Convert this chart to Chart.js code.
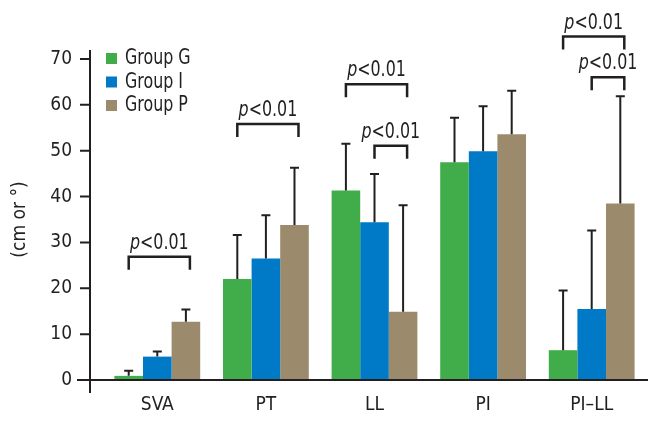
<!DOCTYPE html>
<html>
<head>
<meta charset="utf-8">
<script src="https://cdn.jsdelivr.net/npm/chart.js@4/dist/chart.umd.min.js"></script>
<style>
html,body{margin:0;padding:0;background:#fff;}
#wrap{width:659px;height:424px;position:relative;}
</style>
</head>
<body>
<div id="wrap"><canvas id="c" width="659" height="424"></canvas></div>
<script>
// ---- data ----
const categories = ['SVA', 'PT', 'LL', 'PI', 'PI\u2013LL'];
const seriesNames = ['Group G', 'Group I', 'Group P'];
const groupG = [0.9, 22.0, 41.3, 47.5, 6.5];
const groupI = [5.1, 26.5, 34.4, 49.9, 15.5];
const groupP = [12.7, 33.8, 14.9, 53.6, 38.5];
const sdG = [1.1, 9.6, 10.2, 9.7, 13.0];
const sdI = [1.1, 9.4, 10.5, 9.8, 17.1];
const sdP = [2.7, 12.5, 23.2, 9.5, 23.4];
const yTicks = [0, 10, 20, 30, 40, 50, 60, 70];
// significance brackets
const bracketCat = [0, 1, 2, 2, 4, 4];
const bracketFrom = [0, 0, 0, 1, 0, 1];
const bracketTo = [2, 2, 2, 2, 2, 2];
const bracketY = [26.9, 55.8, 64.5, 51.1, 74.9, 66.0];
const bracketText = ['<0.01', '<0.01', '<0.01', '<0.01', '<0.01', '<0.01'];

const colors = ['#41ad4a', '#0079c7', '#9b8b6c'];
const ink = '#231f20';
const FONT = "'Liberation Sans Narrow', 'DejaVu Sans Condensed', Roboto, sans-serif";
const SX = 0.84; // horizontal squeeze for custom text (condensed look)

const values = [groupG, groupI, groupP];
const sds = [sdG, sdI, sdP];

function squeezedText(ctx, str, x, y) {
  ctx.save();
  ctx.translate(x, y);
  ctx.scale(SX, 1);
  ctx.fillText(str, 0, 0);
  ctx.restore();
}

const customDraw = {
  id: 'customDraw',
  afterDatasetsDraw(chart) {
    const ctx = chart.ctx;
    const ys = chart.scales.y;
    const area = chart.chartArea;
    ctx.save();
    // error bars
    ctx.strokeStyle = ink;
    ctx.lineWidth = 2;
    for (let d = 0; d < 3; d++) {
      const meta = chart.getDatasetMeta(d);
      meta.data.forEach((bar, i) => {
        const top = ys.getPixelForValue(values[d][i]);
        const e = ys.getPixelForValue(values[d][i] + sds[d][i]);
        ctx.beginPath();
        ctx.moveTo(bar.x, top);
        ctx.lineTo(bar.x, e);
        ctx.moveTo(bar.x - 4.5, e);
        ctx.lineTo(bar.x + 4.5, e);
        ctx.stroke();
      });
    }
    // axes
    const ax = area.left - 13;
    const y0 = ys.getPixelForValue(0);
    ctx.lineWidth = 2;
    ctx.beginPath();
    ctx.moveTo(ax, ys.getPixelForValue(70) - 9);
    ctx.lineTo(ax, y0 + 13);
    ctx.moveTo(ax - 13, y0);
    ctx.lineTo(area.right + 2, y0);
    yTicks.forEach(t => {
      const py = ys.getPixelForValue(t);
      ctx.moveTo(ax - 10, py);
      ctx.lineTo(ax, py);
    });
    ctx.stroke();
    // brackets
    ctx.lineWidth = 2.5;
    ctx.fillStyle = ink;
    ctx.textBaseline = 'alphabetic';
    ctx.textAlign = 'left';
    const fItal = 'italic 21px ' + FONT;
    const fReg = '21px ' + FONT;
    for (let k = 0; k < bracketCat.length; k++) {
      const c = bracketCat[k];
      const x1 = chart.getDatasetMeta(bracketFrom[k]).data[c].x;
      const x2 = chart.getDatasetMeta(bracketTo[k]).data[c].x + 4;
      const by = ys.getPixelForValue(bracketY[k]);
      ctx.beginPath();
      ctx.moveTo(x1, by + 13);
      ctx.lineTo(x1, by);
      ctx.lineTo(x2, by);
      ctx.lineTo(x2, by + 13);
      ctx.stroke();
      ctx.font = fItal;
      const wp = ctx.measureText('p').width * SX;
      ctx.font = fReg;
      const wr = ctx.measureText(bracketText[k]).width * SX;
      const cx = (x1 + x2) / 2;
      const sx = cx - (wp + wr) / 2;
      const ty = by - 8;
      ctx.font = fItal;
      squeezedText(ctx, 'p', sx, ty);
      ctx.font = fReg;
      squeezedText(ctx, bracketText[k], sx + wp, ty);
    }
    // legend
    ctx.font = '21px ' + FONT;
    ctx.textBaseline = 'middle';
    chart.data.datasets.forEach((ds, i) => {
      const cy = 58 + i * 23.5;
      ctx.fillStyle = ds.backgroundColor;
      ctx.fillRect(106, cy - 5, 11, 11);
      ctx.fillStyle = ink;
      squeezedText(ctx, ds.label, 125, cy + 1);
    });
    ctx.restore();
  }
};

new Chart(document.getElementById('c'), {
  type: 'bar',
  data: {
    labels: categories,
    datasets: seriesNames.map((n, i) => ({
      label: n,
      data: values[i],
      backgroundColor: colors[i],
      borderWidth: 0,
      categoryPercentage: 0.79,
      barPercentage: 1.0
    }))
  },
  options: {
    responsive: false,
    animation: false,
    layout: { padding: { top: 59, right: 13, left: 0, bottom: 0 } },
    plugins: { legend: { display: false }, tooltip: { enabled: false } },
    scales: {
      x: {
        grid: { display: false },
        border: { display: false },
        ticks: { color: ink, font: { family: FONT, size: 19 }, padding: 6 },
        afterFit(s) { s.height = 44; }
      },
      y: {
        min: 0, max: 70,
        afterBuildTicks(s) { s.ticks = yTicks.map(v => ({ value: v })); },
        grid: { display: false },
        border: { display: false },
        ticks: { color: ink, font: { family: FONT, size: 19 }, padding: 23 },
        title: { display: true, text: '(cm or \u00b0)', color: ink, font: { family: FONT, size: 19 }, padding: { top: 9, bottom: 0 } },
        afterFit(s) { s.width = 103; }
      }
    }
  },
  plugins: [customDraw]
});
</script>
</body>
</html>
